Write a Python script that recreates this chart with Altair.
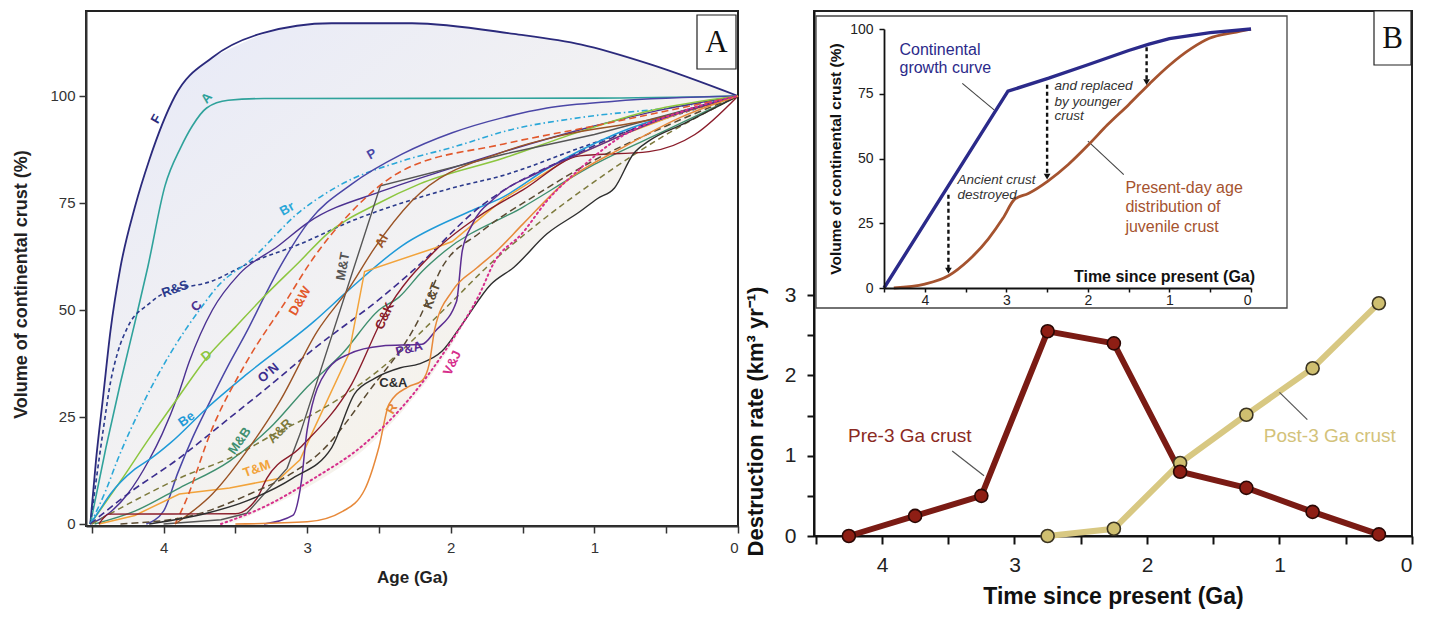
import altair as alt
import pandas as pd

FONT = "Liberation Sans, Arial, Helvetica, sans-serif"

# ======================= Panel A : growth models (age Ga, volume %) =======================
AGE_F = [4.51, 4.47, 4.42, 4.37, 4.30, 4.20, 4.10, 3.92, 3.66, 3.31, 2.83, 2.27, 1.56, 1.09, 0.62, 0.0]
VOL_F = [0, 15, 30, 45, 60, 74, 85, 100, 109, 114.7, 117, 117, 114.5, 112, 107.5, 100]
AGE_A = [4.51, 4.40, 4.30, 4.20, 4.11, 3.99, 3.88, 3.80, 3.70, 3.55, 3.30, 1.0, 0.0]
VOL_A = [0, 18, 33, 47, 60, 79, 88, 93, 97.2, 99, 99.4, 99.5, 100]
AGE_RS = [4.51, 4.47, 4.42, 4.37, 4.32, 4.25, 4.10, 4.01, 3.66, 3.40, 3.05, 2.69, 2.34, 1.99, 1.63, 1.09, 0.62, 0.0]
VOL_RS = [0, 10, 22, 33, 40, 46, 51.5, 53.7, 56.8, 61, 65.4, 70.8, 75, 78.5, 81.5, 88, 93.5, 100]
AGE_BR = [4.51, 4.40, 4.32, 4.13, 3.95, 3.75, 3.61, 3.40, 3.05, 2.76, 2.34, 1.99, 1.56, 1.09, 0.38, 0.0]
VOL_BR = [0, 8, 15, 29, 40, 50, 56, 61.5, 73, 79.4, 84.8, 88, 92.3, 95, 97.7, 100]
AGE_C = [4.51, 4.40, 4.25, 4.10, 4.01, 3.90, 3.82, 3.66, 3.47, 3.20, 3.00, 2.46, 1.99, 1.63, 1.0, 0.5, 0.0]
VOL_C = [0, 2, 7, 15, 21, 30, 38, 50, 58.5, 65, 70.3, 78, 83.2, 87, 93, 97, 100]
AGE_P = [4.12, 4.00, 3.90, 3.80, 3.70, 3.55, 3.42, 3.30, 3.19, 2.98, 2.69, 2.34, 1.99, 1.63, 1.33, 0.86, 0.0]
VOL_P = [0, 3, 12, 20, 27, 37, 45, 53, 60, 71, 79.4, 86.4, 91.4, 95, 97.2, 98.8, 100]
AGE_D = [4.51, 4.30, 4.10, 3.90, 3.70, 3.50, 3.31, 3.05, 2.86, 2.50, 2.22, 1.63, 1.09, 0.62, 0.0]
VOL_D = [0, 10, 20, 29.5, 38.8, 46, 52.8, 61.4, 67.8, 75, 79.4, 85.5, 91.8, 96.5, 100]
AGE_BE = [4.51, 4.45, 4.37, 4.20, 4.08, 3.95, 3.70, 3.42, 2.95, 2.70, 2.34, 1.87, 1.63, 1.33, 0.86, 0.38, 0.0]
VOL_BE = [0, 3, 7, 12.8, 15.5, 19, 27, 35, 47.4, 55, 65, 73, 76.5, 83, 91, 96.5, 100]
AGE_ON = [4.51, 4.25, 3.89, 3.54, 3.28, 2.95, 2.48, 2.27, 1.80, 1.09, 0.38, 0.0]
VOL_ON = [0, 7, 15.4, 24.8, 31.8, 41, 53, 59, 74, 87, 96.5, 100]
AGE_MB = [4.48, 4.20, 3.89, 3.54, 3.26, 3.00, 2.75, 2.50, 2.36, 2.20, 2.04, 1.50, 1.00, 0.50, 0.0]
VOL_MB = [0, 3, 8.4, 14.7, 22.4, 32, 40, 50, 53, 59, 63.8, 74, 84, 92, 100]
AGE_TM = [4.45, 4.20, 3.89, 3.54, 3.19, 3.05, 2.95, 2.71, 2.60, 2.11, 1.99, 1.63, 1.20, 0.80, 0.40, 0.0]
VOL_TM = [0, 2, 7, 8.4, 10.7, 15, 22.4, 39.7, 59, 64.5, 66, 76, 85, 91, 96, 100]
AGE_AR = [4.50, 4.20, 3.89, 3.50, 3.19, 3.05, 2.48, 1.99, 1.75, 1.40, 1.00, 0.50, 0.0]
VOL_AR = [0, 5.5, 10.7, 16, 21.7, 24, 36.5, 52, 60, 70, 80, 91, 100]
AGE_MT = [4.00, 3.60, 3.42, 3.14, 3.05, 2.49, 1.63, 1.00, 0.50, 0.0]
VOL_MT = [0, 1, 2.5, 13, 21, 79, 86.4, 91, 95.5, 100]
AGE_DW = [3.92, 3.85, 3.66, 3.42, 3.14, 2.98, 2.69, 2.34, 1.63, 1.00, 0.50, 0.0]
VOL_DW = [0, 5, 22.4, 38, 52.5, 61, 73, 82.5, 88.8, 93, 96.5, 100]
AGE_AL = [3.92, 3.66, 3.40, 3.19, 2.93, 2.71, 2.53, 2.27, 1.63, 1.20, 0.60, 0.0]
VOL_AL = [0, 7, 18, 28.7, 45, 55, 64.5, 75.5, 87, 91, 94.5, 100]
AGE_CK = [4.45, 4.38, 3.50, 3.35, 3.28, 3.05, 2.69, 2.46, 2.11, 1.80, 1.50, 1.10, 0.62, 0.30, 0.0]
VOL_CK = [0, 2.3, 2.4, 6, 10.7, 17.8, 32.7, 49, 63.8, 72, 78, 86, 87, 91, 100]
AGE_KT = [4.30, 3.80, 3.40, 3.10, 2.90, 2.57, 2.22, 2.06, 1.80, 1.40, 1.00, 0.50, 0.0]
VOL_KT = [0, 2, 7, 12, 17, 31, 48, 60, 68, 77, 85, 93, 100]
AGE_PA = [3.30, 3.10, 3.04, 3.00, 2.86, 2.71, 2.48, 2.20, 2.11, 1.96, 1.92, 1.85, 1.70, 1.40, 1.00, 0.50, 0.0]
VOL_PA = [0, 2, 10, 22, 36, 39.7, 41.6, 42, 45, 52, 63.8, 70, 76, 82, 88, 95, 100]
AGE_CA = [4.10, 3.70, 3.42, 3.10, 2.83, 2.67, 2.53, 2.35, 2.22, 2.06, 1.92, 1.72, 1.56, 1.33, 1.10, 0.98, 0.86, 0.73, 0.62, 0.38, 0.0]
VOL_CA = [0, 2.5, 5.4, 10.7, 17.8, 30.4, 34, 36.5, 37.4, 40.4, 46.7, 56, 60, 67.8, 73, 76, 78.5, 86.4, 89.5, 93.5, 100]
AGE_R = [3.50, 3.00, 2.75, 2.60, 2.50, 2.43, 2.30, 2.20, 2.15, 2.11, 1.99, 1.82, 1.68, 1.50, 1.20, 0.80, 0.40, 0.0]
VOL_R = [0, 0.5, 3, 8, 18, 28, 32, 33.5, 37.4, 45.8, 54.4, 59.8, 63.8, 70, 80, 88, 95, 100]
AGE_VJ = [3.60, 3.30, 2.95, 2.60, 2.27, 1.99, 1.80, 1.70, 1.50, 1.33, 1.10, 0.86, 0.38, 0.0]
VOL_VJ = [0, 4, 10.7, 18.7, 30, 43, 53.7, 61, 68, 75.5, 83, 89.5, 96.5, 100]

# shaded envelope (upper = F, lower = lowest curves)
SHADE_AGE = [4.51, 4.47, 4.42, 4.37, 4.30, 4.20, 4.10, 3.92, 3.66, 3.60, 3.30, 2.95, 2.60, 2.27, 1.99,
             1.80, 1.72, 1.56, 1.33, 1.10, 0.98, 0.86, 0.73, 0.62, 0.38, 0.0]
SHADE_TOP = [0, 15, 30, 45, 60, 74, 85, 100, 109, 110, 114.5, 116.8, 117.2, 117, 116.3,
             115.6, 115.3, 114.5, 113.4, 112.2, 111.3, 110.3, 109, 107.5, 104.5, 100]
SHADE_LOW = [0, 0, 0, 0, 0, 0, 0, 0, 0, 0, 3.5, 9.5, 17.5, 29, 42,
             53, 56, 60, 67.8, 73, 76, 78.5, 86.4, 89.5, 93.5, 100]

CURVE_NAMES = ["F", "A", "R&S", "Br", "C", "P", "D", "Be", "O'N", "M&B", "T&M",
               "A&R", "M&T", "D&W", "Al", "C&K", "K&T", "P&A", "C&A", "R", "V&J"]
CURVE_AGES = [AGE_F, AGE_A, AGE_RS, AGE_BR, AGE_C, AGE_P, AGE_D, AGE_BE, AGE_ON, AGE_MB, AGE_TM,
              AGE_AR, AGE_MT, AGE_DW, AGE_AL, AGE_CK, AGE_KT, AGE_PA, AGE_CA, AGE_R, AGE_VJ]
CURVE_VOLS = [VOL_F, VOL_A, VOL_RS, VOL_BR, VOL_C, VOL_P, VOL_D, VOL_BE, VOL_ON, VOL_MB, VOL_TM,
              VOL_AR, VOL_MT, VOL_DW, VOL_AL, VOL_CK, VOL_KT, VOL_PA, VOL_CA, VOL_R, VOL_VJ]

LABEL_AGE = [4.05, 3.70, 3.92, 3.14, 3.77, 2.55, 3.70, 3.84, 3.27, 3.47, 3.35,
             3.19, 2.75, 3.05, 2.48, 2.46, 2.13, 2.29, 2.40, 2.41, 1.99]
LABEL_VOL = [94.6, 99.5, 54.9, 73.6, 50.9, 86.4, 39.3, 24.5, 35.3, 19.4, 12.9,
             21.7, 60.2, 52.1, 66.1, 48.6, 53.3, 40.9, 32.9, 26.9, 37.6]

# ---- styles (not data) ----
STYLE = {
    "F":   dict(color="#2b2a7c", dash=None, w=1.8, interp="monotone", ang=300),
    "A":   dict(color="#2fa29b", dash=None, w=1.6, interp="monotone", ang=310),
    "R&S": dict(color="#2b3a8c", dash=[4, 3], w=1.6, interp="monotone", ang=340),
    "Br":  dict(color="#2aa7d8", dash=[6, 3, 1.5, 3], w=1.6, interp="monotone", ang=330),
    "C":   dict(color="#4b3191", dash=None, w=1.4, interp="monotone", ang=315),
    "P":   dict(color="#4a46a6", dash=None, w=1.5, interp="monotone", ang=330),
    "D":   dict(color="#8cc63f", dash=None, w=1.5, interp="monotone", ang=320),
    "Be":  dict(color="#1f9ad8", dash=None, w=1.5, interp="monotone", ang=325),
    "O'N": dict(color="#3b2d8e", dash=[7, 4], w=1.6, interp="monotone", ang=320),
    "M&B": dict(color="#3f8f6f", dash=None, w=1.4, interp="monotone", ang=305),
    "T&M": dict(color="#f2a33a", dash=None, w=1.5, interp="linear", ang=340),
    "A&R": dict(color="#7d7a3c", dash=[6, 4], w=1.5, interp="monotone", ang=315),
    "M&T": dict(color="#555555", dash=None, w=1.4, interp="linear", ang=280),
    "D&W": dict(color="#e2582c", dash=[7, 4], w=1.6, interp="monotone", ang=300),
    "Al":  dict(color="#9a5325", dash=None, w=1.4, interp="monotone", ang=300),
    "C&K": dict(color="#8a1c2a", dash=None, w=1.4, interp="monotone", ang=295),
    "K&T": dict(color="#5a4a32", dash=[7, 4], w=1.5, interp="monotone", ang=290),
    "P&A": dict(color="#5c2d91", dash=None, w=1.5, interp="monotone", ang=345),
    "C&A": dict(color="#2e2e2e", dash=None, w=1.4, interp="monotone", ang=0),
    "R":   dict(color="#e7893a", dash=None, w=1.5, interp="monotone", ang=300),
    "V&J": dict(color="#d62e8c", dash=[1.5, 3.5], w=2.0, interp="monotone", ang=295),
}

# ======================= Panel B data =======================
B_AGE = [4.25, 3.75, 3.25, 2.75, 2.25, 1.75, 1.25, 0.75, 0.25]
PRE3_RATE = [0.0, 0.25, 0.5, 2.55, 2.4, 0.8, 0.6, 0.3, 0.02]
POST_AGE = [2.75, 2.25, 1.75, 1.25, 0.75, 0.25]
POST3_RATE = [0.0, 0.09, 0.91, 1.51, 2.09, 2.9]
B_LABELS = ["Pre-3 Ga crust", "Post-3 Ga crust"]
B_LABEL_AGE = [3.79, 0.62]
B_LABEL_RATE = [1.25, 1.25]
B_LEAD_AGE1 = [3.47, 1.00]
B_LEAD_RATE1 = [1.06, 1.79]
B_LEAD_AGE2 = [3.23, 0.79]
B_LEAD_RATE2 = [0.75, 1.45]

# inset
GROWTH_AGE = [4.5, 2.98, 2.48, 2.0, 1.5, 1.25, 1.0, 0.5, 0.0]
GROWTH_VOL = [0, 76, 81, 86.2, 91.7, 94.2, 96.3, 98.6, 100]
JUV_AGE = [4.38, 4.0, 3.71, 3.47, 3.22, 3.04, 2.9, 2.73, 2.49, 2.24, 1.99, 1.76, 1.5, 1.24, 1.0, 0.73, 0.51, 0.22, 0.0]
JUV_VOL = [0, 1.5, 4.7, 10.5, 19, 27, 34.2, 36.5, 41.3, 47.7, 55.4, 63, 70.8, 79, 86, 92.5, 96.4, 98.6, 100]
ARROW_AGE = [3.71, 2.50, 1.28]
ARROW_TOP = [36, 78.5, 93]
ARROW_BOTTOM = [6.7, 43, 79.5]
GROWTH_TXT = ["Continental", "growth curve"]
GROWTH_TXT_AGE = [4.31, 4.31]
GROWTH_TXT_VOL = [91.9, 84.9]
REPL_TXT = ["and replaced", "by younger", "crust"]
REPL_TXT_AGE = [2.41, 2.41, 2.41]
REPL_TXT_VOL = [77.8, 72.0, 66.5]
ANC_TXT = ["Ancient crust", "destroyed"]
ANC_TXT_AGE = [3.60, 3.60]
ANC_TXT_VOL = [41.7, 35.9]
JUV_TXT = ["Present-day age", "distribution of", "juvenile crust"]
JUV_TXT_AGE = [1.54, 1.54, 1.54]
JUV_TXT_VOL = [38.7, 31.4, 23.7]
INSET_LEAD_AGE1 = [3.54, 2.00]
INSET_LEAD_VOL1 = [79.0, 56.7]
INSET_LEAD_AGE2 = [3.15, 1.56]
INSET_LEAD_VOL2 = [68.8, 43.8]
INSET_XTITLE = ["Time since present (Ga)"]
INSET_XTITLE_AGE = [-0.05]
INSET_XTITLE_VOL = [4.4]

HALF_TICKS = [4.5, 4, 3.5, 3, 2.5, 2, 1.5, 1, 0.5, 0]
INT_ONLY = "datum.value % 1 == 0 ? format(datum.value, 'd') : ''"
PCT_TICKS = [0, 25, 50, 75, 100]
RATE_TICKS = [0, 0.5, 1, 1.5, 2, 2.5, 3]

# ======================= Panel A chart =======================
A_W, A_H = 652, 515
xA = alt.Scale(domain=[4.54, 0], nice=False, zero=False)
yA = alt.Scale(domain=[-0.47, 119.86], nice=False, zero=False)
axA_x = alt.Axis(values=HALF_TICKS, labelExpr=INT_ONLY, labelOverlap=False, title="Age (Ga)", grid=False,
                 labelFontSize=15, labelColor="#333", titleFontSize=17, titleFontWeight="bold",
                 titleColor="#222", tickSize=7, tickColor="#333", tickWidth=1.5, labelPadding=7,
                 titlePadding=14, domainColor="#333", domainWidth=2)
axA_y = alt.Axis(values=PCT_TICKS, format="d", labelOverlap=False,
                 title="Volume of continental crust (%)", titleY=273, grid=False,
                 labelFontSize=15, labelColor="#333", titleFontSize=18, titleFontWeight="bold",
                 titleColor="#222", tickSize=7, tickColor="#333", tickWidth=1.5, labelPadding=4,
                 titlePadding=19, domainColor="#333", domainWidth=2)


def xa():
    return alt.X("age:Q", scale=xA, axis=axA_x)


def ya(field="vol"):
    return alt.Y(f"{field}:Q", scale=yA, axis=axA_y)


shade_df = pd.DataFrame({"age": SHADE_AGE, "top": SHADE_TOP, "low": SHADE_LOW})
grad = alt.Gradient(gradient="linear",
                    stops=[alt.GradientStop(color="#e6e9f8", offset=0),
                           alt.GradientStop(color="#f3f2f2", offset=0.5),
                           alt.GradientStop(color="#fcf3da", offset=1)],
                    x1=0, y1=0, x2=1, y2=1)
layersA = [alt.Chart(shade_df).mark_area(color=grad, interpolate="monotone").encode(
    x=xa(), y=ya("top"), y2="low:Q")]

for name, ages, vols in zip(CURVE_NAMES, CURVE_AGES, CURVE_VOLS):
    st = STYLE[name]
    kw = dict(color=st["color"], strokeWidth=st["w"], interpolate=st["interp"])
    if st["dash"]:
        kw["strokeDash"] = st["dash"]
    if name == "V&J":
        kw["strokeCap"] = "round"
    df = pd.DataFrame({"age": ages, "vol": vols})
    layersA.append(alt.Chart(df).mark_line(**kw).encode(x=xa(), y=ya()))

for name, a, v in zip(CURVE_NAMES, LABEL_AGE, LABEL_VOL):
    st = STYLE[name]
    df = pd.DataFrame({"age": [a], "vol": [v], "t": [name]})
    layersA.append(alt.Chart(df).mark_text(angle=st["ang"], color=st["color"], fontWeight="bold",
                                           fontSize=13, align="center", baseline="middle").encode(
        x=xa(), y=ya(), text="t:N"))

one = pd.DataFrame({"k": [0]})
layersA.append(alt.Chart(one).mark_rect(fill="white", stroke="#222", strokeWidth=1.2).encode(
    x=alt.value(611), x2=alt.value(650), y=alt.value(4), y2=alt.value(58)))
layersA.append(alt.Chart(one).mark_text(text="A", font="Liberation Serif", fontSize=31, color="#111",
                                        align="center", baseline="middle").encode(
    x=alt.value(630.5), y=alt.value(32)))

panelA = alt.layer(*layersA).properties(width=A_W, height=A_H)

# ======================= Panel B chart =======================
B_W, B_H = 598, 525
xB = alt.Scale(domain=[4.513, 0], nice=False, zero=False)
yB = alt.Scale(domain=[0, 6.54], nice=False, zero=False)
axB_x = alt.Axis(orient="bottom", values=HALF_TICKS, labelExpr=INT_ONLY, labelOverlap=False,
                 title="Time since present (Ga)", grid=False, labelFontSize=21, labelColor="#222",
                 titleFontSize=23, titleFontWeight="bold", titleColor="#111", tickSize=8,
                 tickColor="#111", tickWidth=2, labelPadding=10, titlePadding=10,
                 domainColor="#111", domainWidth=2)
axB_y = alt.Axis(orient="left", values=RATE_TICKS, labelExpr=INT_ONLY, labelOverlap=False,
                 title="Destruction rate (km³ yr⁻¹)", titleY=410, grid=False, labelFontSize=21,
                 labelColor="#222", titleFontSize=22, titleFontWeight="bold", titleColor="#111",
                 tickSize=7, tickColor="#111", tickWidth=2, labelPadding=11, titlePadding=17,
                 domainColor="#111", domainWidth=2)


def xb(field="age"):
    return alt.X(f"{field}:Q", scale=xB, axis=axB_x)


def yb(field="rate"):
    return alt.Y(f"{field}:Q", scale=yB, axis=axB_y)


pre_df = pd.DataFrame({"age": B_AGE, "rate": PRE3_RATE})
post_df = pd.DataFrame({"age": POST_AGE, "rate": POST3_RATE})
blab_df = pd.DataFrame({"age": B_LABEL_AGE, "rate": B_LABEL_RATE, "t": B_LABELS})
blead_df = pd.DataFrame({"age": B_LEAD_AGE1, "rate": B_LEAD_RATE1,
                         "age2": B_LEAD_AGE2, "rate2": B_LEAD_RATE2})

main_layers = [
    alt.Chart(post_df).mark_line(color="#d8c882", strokeWidth=6).encode(x=xb(), y=yb()),
    alt.Chart(pre_df).mark_line(color="#7a1b14", strokeWidth=6).encode(x=xb(), y=yb()),
    alt.Chart(blead_df).mark_rule(color="#555", strokeWidth=1.2).encode(
        x=xb(), y=yb(), x2="age2:Q", y2="rate2:Q"),
    alt.Chart(post_df).mark_circle(size=170, color="#cfbf70", stroke="#3b3421", strokeWidth=1.6,
                                   opacity=1).encode(x=xb(), y=yb()),
    alt.Chart(pre_df).mark_circle(size=170, color="#8e1e14", stroke="#2a0805", strokeWidth=1.6,
                                  opacity=1).encode(x=xb(), y=yb()),
    alt.Chart(blab_df.iloc[[0]]).mark_text(fontSize=19, color="#8b2a22", align="center",
                                           baseline="middle").encode(x=xb(), y=yb(), text="t:N"),
    alt.Chart(blab_df.iloc[[1]]).mark_text(fontSize=19, color="#d3c27a", align="center",
                                           baseline="middle").encode(x=xb(), y=yb(), text="t:N"),
]
mainB = alt.layer(*main_layers)

# inset (own scales drawn into the upper-left part of panel B)
xI = alt.Scale(domain=[4.5, 0], range=[70, 437], nice=False, zero=False)
yI = alt.Scale(domain=[0, 100], range=[277, 18], nice=False, zero=False)
axI_x = alt.Axis(orient="bottom", offset=-248, values=HALF_TICKS, labelExpr=INT_ONLY,
                 labelOverlap=False, zindex=2,
                 title=None, grid=False, labelFontSize=14, labelColor="#222", tickSize=4,
                 tickColor="#111", tickWidth=1.5, labelPadding=1, domainColor="#111", domainWidth=1.8)
axI_y = alt.Axis(orient="left", offset=-70, values=PCT_TICKS, format="d", labelOverlap=False,
                 zindex=2, title="Volume of continental crust (%)", grid=False, labelFontSize=14,
                 labelColor="#222", titleFontSize=15.5, titleFontWeight="bold", titleColor="#111",
                 tickSize=5, tickColor="#111", tickWidth=1.5, labelPadding=6, titlePadding=6,
                 domainColor="#111", domainWidth=1.8)


def xi(field="age"):
    return alt.X(f"{field}:Q", scale=xI, axis=axI_x)


def yi(field="vol"):
    return alt.Y(f"{field}:Q", scale=yI, axis=axI_y)


growth_df = pd.DataFrame({"age": GROWTH_AGE, "vol": GROWTH_VOL})
juv_df = pd.DataFrame({"age": JUV_AGE, "vol": JUV_VOL})
arrow_df = pd.DataFrame({"age": ARROW_AGE, "vol": ARROW_TOP, "vol2": ARROW_BOTTOM})
ilead_df = pd.DataFrame({"age": INSET_LEAD_AGE1, "vol": INSET_LEAD_VOL1,
                         "age2": INSET_LEAD_AGE2, "vol2": INSET_LEAD_VOL2})


def txt_df(t, a, v):
    return pd.DataFrame({"t": t, "age": a, "vol": v})


inset_layers = [
    alt.Chart(one).mark_rect(fill="white", stroke="#444", strokeWidth=1.3).encode(
        x=alt.value(2), x2=alt.value(473), y=alt.value(5), y2=alt.value(297)),
    alt.Chart(ilead_df).mark_rule(color="#444", strokeWidth=1.1).encode(
        x=xi(), y=yi(), x2="age2:Q", y2="vol2:Q"),
    alt.Chart(juv_df).mark_line(color="#a5532f", strokeWidth=2.8, interpolate="monotone").encode(
        x=xi(), y=yi()),
    alt.Chart(growth_df).mark_line(color="#2b2a8a", strokeWidth=3.4).encode(x=xi(), y=yi()),
    alt.Chart(arrow_df).mark_rule(color="#111", strokeWidth=2.4, strokeDash=[4, 3]).encode(
        x=xi(), y=yi(), y2="vol2:Q"),
    alt.Chart(arrow_df).mark_point(shape="triangle-down", filled=True, size=45, color="#111",
                                   opacity=1).encode(x=xi(), y=yi("vol2")),
    alt.Chart(txt_df(GROWTH_TXT, GROWTH_TXT_AGE, GROWTH_TXT_VOL)).mark_text(
        fontSize=16, color="#2b2a8a", align="left", baseline="middle").encode(
        x=xi(), y=yi(), text="t:N"),
    alt.Chart(txt_df(REPL_TXT, REPL_TXT_AGE, REPL_TXT_VOL)).mark_text(
        fontSize=13.5, fontStyle="italic", color="#333", align="left", baseline="middle").encode(
        x=xi(), y=yi(), text="t:N"),
    alt.Chart(txt_df(ANC_TXT, ANC_TXT_AGE, ANC_TXT_VOL)).mark_text(
        fontSize=13.5, fontStyle="italic", color="#333", align="left", baseline="middle").encode(
        x=xi(), y=yi(), text="t:N"),
    alt.Chart(txt_df(JUV_TXT, JUV_TXT_AGE, JUV_TXT_VOL)).mark_text(
        fontSize=16, color="#a5532f", align="left", baseline="middle").encode(
        x=xi(), y=yi(), text="t:N"),
    alt.Chart(txt_df(INSET_XTITLE, INSET_XTITLE_AGE, INSET_XTITLE_VOL)).mark_text(
        fontSize=16, fontWeight="bold", color="#111", align="right", baseline="middle").encode(
        x=xi(), y=yi(), text="t:N"),
]
inset = alt.layer(*inset_layers)

box_layers = alt.layer(
    alt.Chart(one).mark_rect(fill="white", stroke="#222", strokeWidth=1.2).encode(
        x=alt.value(560), x2=alt.value(597), y=alt.value(0), y2=alt.value(54)),
    alt.Chart(one).mark_text(text="B", font="Liberation Serif", fontSize=31, color="#111",
                             align="center", baseline="middle").encode(
        x=alt.value(578.5), y=alt.value(28)),
)

panelB = alt.layer(mainB, inset, box_layers).resolve_scale(
    x="independent", y="independent").properties(width=B_W, height=B_H)

chart = alt.hconcat(panelA, panelB, spacing=0).properties(
    padding={"left": 3, "top": 1, "right": 0, "bottom": 0}
).configure(font=FONT).configure_view(stroke="#222", strokeWidth=2)

chart.save("out.html", embed_options={"renderer": "svg", "actions": False})
